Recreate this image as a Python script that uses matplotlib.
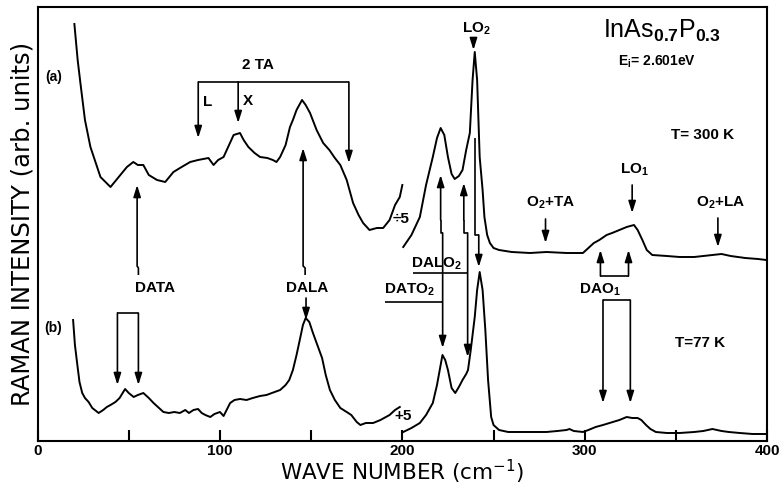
import numpy as np
import matplotlib.pyplot as plt

plt.rcParams['font.family'] = ['Liberation Sans', 'DejaVu Sans']
plt.rcParams['mathtext.fontset'] = 'custom'
plt.rcParams['mathtext.rm'] = 'Liberation Sans:bold'
plt.rcParams['mathtext.it'] = 'Liberation Sans:bold'
plt.rcParams['mathtext.bf'] = 'Liberation Sans:bold'
plt.rcParams['mathtext.default'] = 'rm'

# ---- spectrum (a) T = 300 K, low frequency part (/5) ----
xa1 = [20.2, 22, 23.5, 26, 29, 34.5, 40, 45.4, 49, 52.5, 55, 58, 61, 65.5, 70, 74.5,
       79, 83.7, 88, 93.7, 96.5, 99, 102, 105, 107.5, 111, 113, 115.6, 119, 122, 126,
       129, 131, 133, 136, 138.4, 140, 142, 145, 147, 149.4, 153, 156.6, 160, 163, 166,
       169.5, 173, 176, 178.5, 182, 186, 189.5, 193, 196, 198.6, 200]
ya1 = [426, 390, 367, 330, 303, 273, 263, 275, 283, 288, 285, 285, 275, 270, 268, 278,
       283, 288, 290, 292, 285, 290, 293, 305, 315, 317, 310, 303, 297, 293, 292,
       290, 288, 293, 305, 323, 330, 340, 350, 345, 337, 320, 307, 300, 292, 285,
       270, 247, 235, 227, 220, 222, 222, 230, 245, 253, 265]
# ---- spectrum (a), high frequency part ----
xa2 = [200.5, 205, 209.6, 213, 216.7, 219, 221, 223, 225, 227, 228.7, 231, 233, 235, 237,
       238.5, 239.7, 241, 242.4, 244, 245, 246.5, 248, 250, 253, 260, 270, 279, 290, 299,
       302.6, 305, 308, 312, 315, 319, 323, 327, 329, 331.6, 334, 337, 345, 352, 360,
       370, 375, 380, 388, 395, 399.5]
ya2 = [203, 215, 233, 265, 293, 312, 322, 315, 293, 276, 271, 274, 280, 300, 317,
       370, 398, 370, 293, 260, 233, 215, 207, 202, 200, 198, 197, 198, 197, 197,
       203, 207, 210, 215, 217, 220, 223, 225, 220, 210, 200, 195, 194, 193, 193,
       195, 196, 194, 192, 191, 190]

# ---- spectrum (b) T = 77 K, low frequency part (x5) ----
xb1 = [19.5, 20.5, 21.7, 23, 24.5, 26, 28, 30, 33.5, 36, 38, 40, 42.7, 45, 48, 50, 52.7,
       55, 58, 61, 63.6, 66, 69, 72, 75, 78, 81, 83, 85.5, 88, 90, 92, 94.7, 97, 100,
       102, 105.6, 108, 111, 114.6, 118, 122, 125.5, 130, 133, 136, 138, 140, 142, 144,
       145.5, 147, 149, 151, 153, 156, 158, 160.3, 163, 166, 169.5, 172, 175, 177, 180,
       184, 188, 191, 193, 196, 198.6]
yb1 = [130, 105, 87, 68, 57, 52, 48, 42, 37, 40, 43, 45, 48, 52, 61, 57, 53,
       55, 57, 52, 47, 43, 38, 37, 38, 37, 40, 37, 40, 41, 37, 35, 33, 36, 38,
       34, 47, 50, 51, 50, 52, 54, 55, 58, 60, 65, 70, 80, 95, 112,
       125, 132, 128, 117, 107, 92, 75, 60, 50, 42, 38, 35, 28, 25, 27,
       27, 30, 33, 35, 40, 43]
# ---- spectrum (b), high frequency part ----
xb2 = [200.5, 205, 209.6, 213, 216.7, 219, 220.5, 222, 223.5, 225, 227, 229, 231, 233,
       235, 236, 237.5, 239.7, 241, 242.4, 244, 245.5, 247, 248.7, 250, 253, 258, 264,
       272, 279, 285, 290, 291.6, 294, 299, 302, 306, 310, 315.4, 319, 323, 326, 329,
       331, 333.6, 336, 339, 345, 352, 360, 365, 370, 375, 379, 385, 392, 399.5]
yb2 = [18, 22, 27, 35, 47, 65, 80, 95, 90, 80, 62, 57, 63, 70,
       76, 80, 100, 133, 160, 178, 160, 120, 70, 33, 25, 20, 18, 18,
       18, 18, 19, 20, 21, 19, 18, 20, 23, 25, 28, 30, 33, 32, 32,
       30, 25, 21, 18, 17, 17, 18, 19, 21, 19, 18, 17, 16, 16]

tick_pos = [0, 50, 100, 150, 200, 250, 300, 350, 400]
tick_lab = ['0', '', '100', '', '200', '', '300', '', '400']

fig = plt.figure(figsize=(7.82, 4.86), dpi=100)
ax = fig.add_axes([0.048, 0.0926, 0.933, 0.893])

lw = 1.4
for xs, ys in [(xa1, ya1), (xa2, ya2), (xb1, yb1), (xb2, yb2)]:
    ax.plot(xs, ys, color='black', lw=lw)


def line(xs, ys):
    ax.plot(xs, ys, color='black', lw=1.2, solid_capstyle='butt')


def arrow(x0, y0, x1, y1):
    ax.annotate('', xy=(x1, y1), xytext=(x0, y0),
                arrowprops=dict(arrowstyle='-|>,head_width=0.22,head_length=0.7',
                                color='black', lw=1.2, shrinkA=0, shrinkB=0))


tfont = dict(fontsize=11, fontweight='bold', ha='center', va='center')

# 2 TA bracket
line([88.1, 170.7], [368, 368])
arrow(88.1, 368, 88.1, 312)
arrow(110, 368, 110, 327)
arrow(170.7, 368, 170.7, 287)
ax.text(121, 385, '2 TA', **tfont)
ax.text(93, 348, 'L', **tfont)
ax.text(115.2, 349, 'X', **tfont)

# DATA
line([55.3, 55.3, 54.6], [175, 182, 184])
arrow(54.6, 184, 54.6, 265)
ax.text(64.6, 162, 'DATA', **tfont)
line([43.8, 55.3], [137, 137])
arrow(43.8, 137, 43.8, 65)
arrow(55.3, 137, 55.3, 65)

# DALA
line([146.7, 146.7, 145.6], [175, 182, 184])
arrow(145.6, 184, 145.6, 302)
ax.text(147.7, 162, 'DALA', **tfont)
arrow(147.2, 152, 147.2, 130)

# DALO2 / DATO2 chains
line([190.4, 222.1], [148, 148])
arrow(222.1, 217, 222.1, 102)
line([222.1, 221, 221], [217, 217, 230])
arrow(221, 230, 221, 275)
ax.text(204, 160, 'DATO$_2$', **tfont)

line([205.7, 235.8], [177, 177])
arrow(235.8, 217, 235.8, 93)
line([235.8, 233.7, 233.7], [217, 217, 230])
arrow(233.7, 230, 233.7, 267)
ax.text(218.9, 186, 'DALO$_2$', **tfont)

line([239.7, 239.7, 241.9], [312, 215, 215])
arrow(241.9, 215, 241.9, 183)

# LO2
arrow(239, 412, 239, 400)
ax.text(240.8, 421, 'LO$_2$', **tfont)

# O2+TA, LO1, O2+LA
ax.text(281.3, 247, 'O$_2$+TA', **tfont)
arrow(278.5, 231, 278.5, 207)
ax.text(327.2, 280, 'LO$_1$', **tfont)
arrow(326, 265, 326, 237)
ax.text(374.3, 247, 'O$_2$+LA', **tfont)
arrow(373, 232, 373, 203)

# DAO1
line([308.6, 324], [174, 174])
arrow(308.6, 174, 308.6, 200)
arrow(324, 174, 324, 200)
ax.text(308, 160, 'DAO$_1$', **tfont)
line([310, 325], [150, 150])
arrow(310, 150, 310, 47)
arrow(325, 150, 325, 47)

# scale marks and labels
ax.text(199.5, 231, '÷5', **tfont)
ax.text(200.5, 34, '+5', **tfont)
ax.text(4.5, 373, '(a)', fontsize=10, fontweight='bold', ha='left', va='center')
ax.text(3.5, 122, '(b)', fontsize=10, fontweight='bold', ha='left', va='center')

ax.text(342.5, 419, 'InAs$_{0.7}$P$_{0.3}$', fontsize=18, ha='center', va='center')
ax.text(339.5, 388, 'E$_{i}$= 2.601eV', fontsize=10, fontweight='bold',
        ha='center', va='center')
ax.text(364.4, 315, 'T= 300 K', fontsize=11, fontweight='bold', ha='center', va='center')
ax.text(363.3, 107, 'T=77 K', fontsize=11, fontweight='bold', ha='center', va='center')

ax.set_xlim(0, 400)
ax.set_ylim(9, 443)
ax.set_xticks(tick_pos)
ax.set_xticklabels(tick_lab, fontweight='bold', fontsize=11)
ax.tick_params(axis='x', direction='in', length=8, width=1.5, top=False, pad=2)
ax.set_yticks([])
for s in ax.spines.values():
    s.set_linewidth(1.5)

ax.set_xlabel('WAVE NUMBER (cm$^{-1}$)', fontsize=15.5, family='DejaVu Sans', labelpad=0)
ax.xaxis.label.set_math_fontfamily('dejavusans')
ax.set_ylabel('RAMAN INTENSITY (arb. units)', fontsize=17.5, family='DejaVu Sans',
              labelpad=2)

plt.savefig('out.png', dpi=100)
